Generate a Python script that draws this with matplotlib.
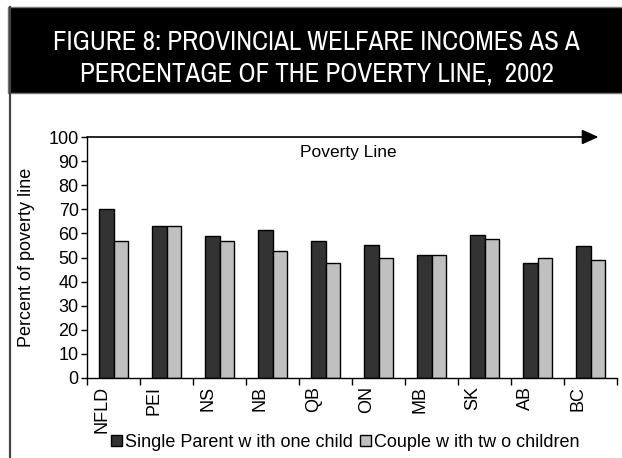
import matplotlib
matplotlib.use("Agg")
import matplotlib.pyplot as plt
import matplotlib.transforms as mtransforms
import numpy as np
from matplotlib.patches import Rectangle
from matplotlib.lines import Line2D

# data
provinces = ["NFLD", "PEI", "NS", "NB", "QB", "ON", "MB", "SK", "AB", "BC"]
single_parent = [70.2, 63.0, 59.0, 61.6, 57.0, 55.3, 51.2, 59.2, 47.8, 54.9]
couple_two = [57.0, 63.0, 57.0, 52.8, 47.8, 49.6, 50.9, 57.5, 49.6, 48.8]
series_names = ["Single Parent w ith one child", "Couple w ith tw o children"]
poverty_line = 100
yticks = np.arange(0, 101, 10)

plt.rcParams["font.family"] = ["Liberation Sans", "DejaVu Sans"]
title_font = ["Archivo Narrow", "Liberation Sans"]

fig = plt.figure(figsize=(6.22, 4.58), dpi=100)

# title banner
fig.patches.append(Rectangle((8 / 622, 1 - 93 / 458), 1, 86 / 458,
                             transform=fig.transFigure, facecolor="black",
                             edgecolor="#777777", lw=1))
fig.lines.append(Line2D([9.5 / 622, 9.5 / 622], [0, 1 - 7 / 458],
                        transform=fig.transFigure, color="#444444", lw=1.6))
fig.text(0.509, 1 - 42 / 458, "FIGURE 8: PROVINCIAL WELFARE INCOMES AS A",
         color="white", fontsize=19.4, ha="center", va="center", family=title_font)
fig.text(0.509, 1 - 73.5 / 458, "PERCENTAGE OF THE POVERTY LINE,  2002",
         color="white", fontsize=19.4, ha="center", va="center", family=title_font)

ax = fig.add_axes([87 / 622, 80 / 458, 530 / 622, 241 / 458])

x = np.arange(len(provinces))
w = 0.27
ax.bar(x - w / 2, single_parent, w, color="#333333", edgecolor="black",
       lw=1.0, label=series_names[0])
ax.bar(x + w / 2, couple_two, w, color="#c0c0c0", edgecolor="black",
       lw=1.0, label=series_names[1])

ax.set_xlim(-0.5, len(provinces) - 0.5)
ax.set_ylim(0, poverty_line)
ax.set_yticks(yticks)
ax.tick_params(axis="y", labelsize=13, length=4, width=1, pad=2)
ax.set_xticks(np.arange(len(provinces) + 1) - 0.5)
ax.set_xticklabels([])
ax.set_xticks(x, minor=True)
ax.set_xticklabels(provinces, minor=True, rotation=90, fontsize=13)
ax.tick_params(axis="x", which="major", length=5, width=1)
ax.tick_params(axis="x", which="minor", length=0, pad=6)

# labels sit a bit left of the group centre, as in the original
shift = mtransforms.ScaledTranslation(-12 / 100, 0, fig.dpi_scale_trans)
for lab in ax.get_xticklabels(minor=True):
    lab.set_transform(lab.get_transform() + shift)

for s in ["top", "right"]:
    ax.spines[s].set_visible(False)
for s in ["left", "bottom"]:
    ax.spines[s].set_linewidth(1.0)

ax.set_ylabel("Percent of poverty line", fontsize=13, va="center")
ax.yaxis.set_label_coords(-0.114, 0.5)

# poverty line arrow
ax.annotate("", xy=(0.965, poverty_line), xytext=(0, poverty_line),
            xycoords=("axes fraction", "data"),
            textcoords=("axes fraction", "data"),
            arrowprops=dict(arrowstyle="-|>,head_length=1.0,head_width=0.45",
                            mutation_scale=10, color="black", lw=1.2,
                            shrinkA=0, shrinkB=0),
            annotation_clip=False)
ax.text(0.402, 93.5, "Poverty Line", transform=ax.get_yaxis_transform(),
        fontsize=12.5, va="center", ha="left")

fig.legend(loc="center", bbox_to_anchor=(0.555, 0.034), ncol=2, frameon=False,
           fontsize=13, handlelength=0.6, handleheight=0.6,
           handletextpad=0.15, columnspacing=0.4, borderpad=0)

fig.savefig("out.png", dpi=100)
